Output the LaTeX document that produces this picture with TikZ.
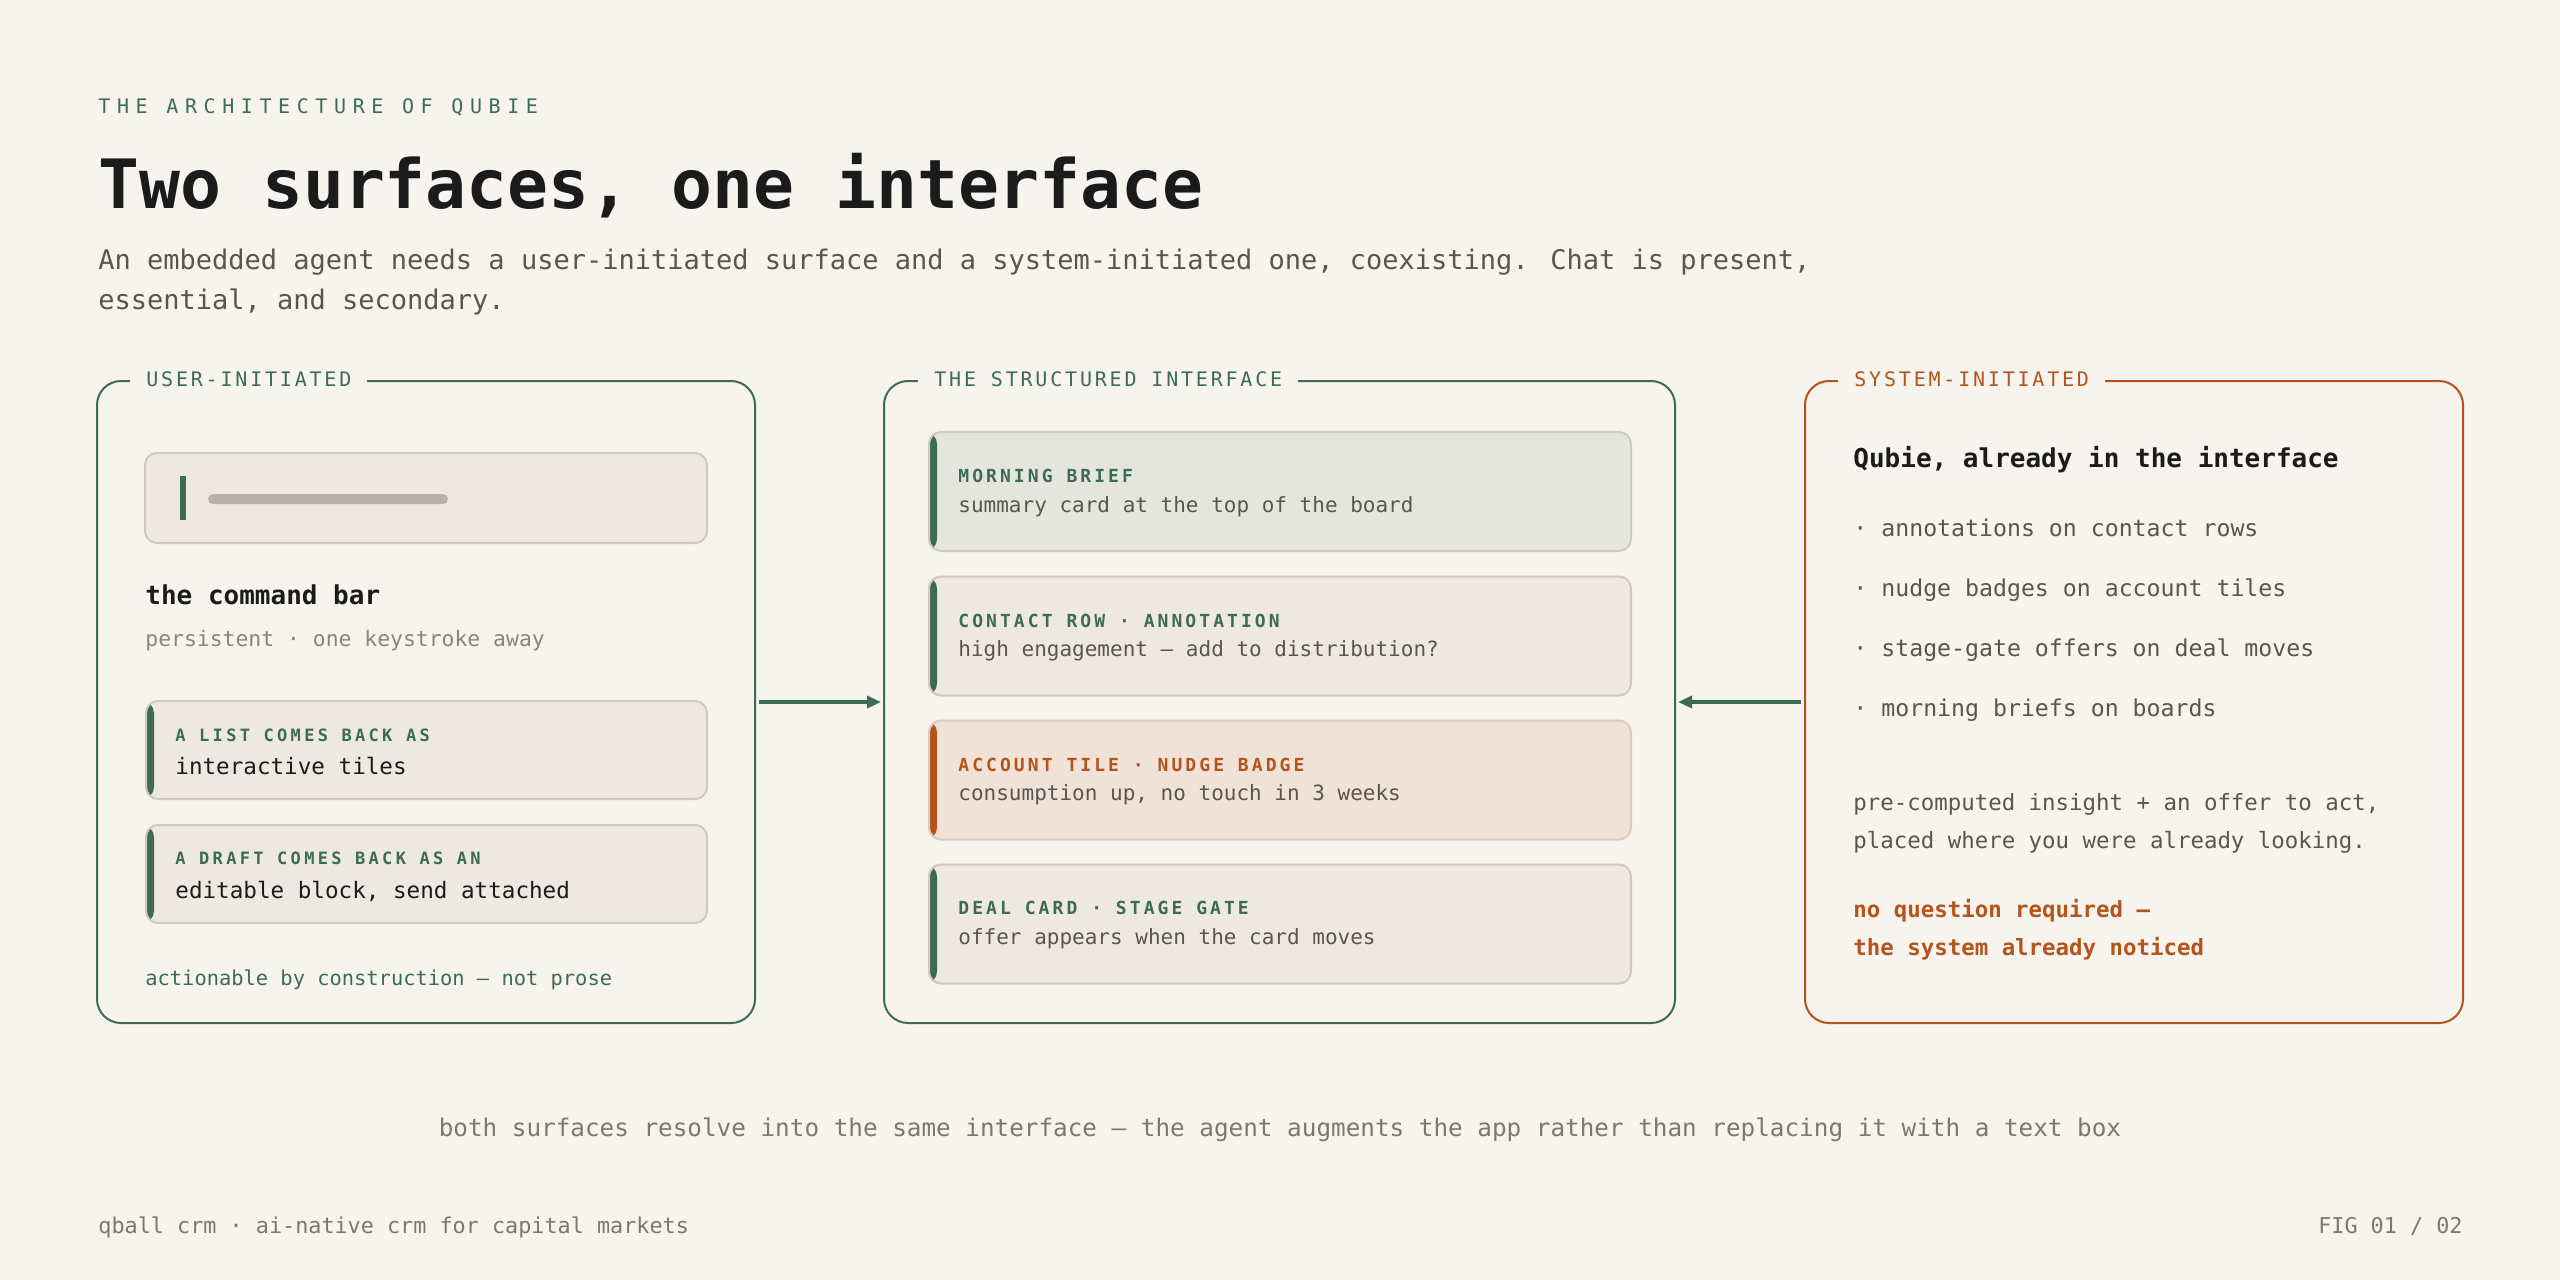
\documentclass[tikz,border=0pt]{standalone}
\usepackage{fontspec}
\setmainfont{DejaVu Sans Mono}
\newfontfamily\eyefont[LetterSpace=33]{DejaVu Sans Mono}
\newfontfamily\plabfont[LetterSpace=14]{DejaVu Sans Mono}
\newfontfamily\clabfont[LetterSpace=19.5]{DejaVu Sans Mono}
\newfontfamily\mlabfont[LetterSpace=17]{DejaVu Sans Mono}
\usetikzlibrary{arrows.meta}
\definecolor{bg}{HTML}{F7F4EF}
\definecolor{qgreen}{HTML}{3D6B56}
\definecolor{qorange}{HTML}{B4541A}
\definecolor{ink}{HTML}{1B1B1B}
\definecolor{grey}{HTML}{5A5550}
\definecolor{lightgrey}{HTML}{8A847D}
\definecolor{capgrey}{HTML}{7D7771}
\definecolor{cardfill}{HTML}{EDE8E2}
\definecolor{cardline}{HTML}{CFC9C2}
\definecolor{greenfill}{HTML}{E4E5DF}
\definecolor{orangefill}{HTML}{F0E2D6}
\definecolor{orangeline}{HTML}{D9CBBF}
\definecolor{barfill}{HTML}{B6B0A9}
\begin{document}
\begin{tikzpicture}[x=0.5pt,y=-0.5pt,
  txt/.style={inner sep=0pt, anchor=base west},
  panel/.style={draw=#1, line width=1pt, rounded corners=12pt, inner sep=0pt, minimum height=321pt},
  plab/.style={fill=bg, inner xsep=8pt, inner ysep=2pt, anchor=west, text=#1, font=\plabfont\fontsize{10}{12}\selectfont},
  card/.style={draw=cardline, fill=cardfill, line width=1pt, rounded corners=6pt, inner sep=0pt},
  accent/.style={path picture={\fill[#1] (path picture bounding box.north west) rectangle ([xshift=4pt]path picture bounding box.south west);}},
  lcard/.style={card, accent=qgreen, minimum width=280.5pt, minimum height=49pt},
  mcard/.style={card, minimum width=351pt, minimum height=59.5pt},
  llab/.style={txt, text=qgreen, font=\clabfont\bfseries\fontsize{8.5}{10}\selectfont},
  lbody/.style={txt, text=ink, font=\fontsize{11.3}{13}\selectfont},
  mlab/.style={txt, text=#1, font=\mlabfont\bfseries\fontsize{9}{11}\selectfont},
  mbody/.style={txt, text=grey, font=\fontsize{10.5}{12}\selectfont},
  bullet/.style={txt, text=grey, font=\fontsize{11.6}{13}\selectfont},
  para/.style={txt, text=grey, font=\fontsize{11.2}{13}\selectfont},
  opara/.style={txt, text=qorange, font=\bfseries\fontsize{11.2}{13}\selectfont},
  conn/.style={draw=qgreen, line width=1.7pt, shorten <=1.5pt, shorten >=1pt, -{Triangle[length=7pt,width=6pt]}}
]
\fill[bg] (0,0) rectangle (2560,1280);
\useasboundingbox (0,0) rectangle (2560,1280);

% header
\node[txt, text=qgreen, font=\eyefont\fontsize{10}{12}\selectfont] (eyebrow) at (98,113) {THE ARCHITECTURE OF QUBIE};
\node[txt, text=ink, font=\bfseries\fontsize{34}{40}\selectfont] (title) at (98,208) {Two surfaces, one interface};
\node[txt, text=grey, font=\fontsize{13.5}{16}\selectfont] (sub1) at (98,269) {An embedded agent needs a user-initiated surface and a system-initiated one, coexisting. Chat is present,};
\node[txt, text=grey, font=\fontsize{13.5}{16}\selectfont] (sub2) at (98,309) {essential, and secondary.};

% panels
\node[panel=qgreen, minimum width=329pt] (user) at (426,702) {};
\node[panel=qgreen, minimum width=395.5pt] (iface) at (1279.5,702) {};
\node[panel=qorange, minimum width=329pt] (sys) at (2134,702) {};
\node[plab=qgreen] (userlab) at (130,379) {USER-INITIATED};
\node[plab=qgreen] (ifacelab) at (918,379) {THE STRUCTURED INTERFACE};
\node[plab=qorange] (syslab) at (1838,379) {SYSTEM-INITIATED};

% left panel content
\node[card, minimum width=281pt, minimum height=45pt] (cmd) at (426,498) {};
\fill[qgreen] (180,476) rectangle (186,520);
\fill[barfill, rounded corners=2.5pt] (208,494) rectangle (448,504);
\node[txt, text=ink, font=\bfseries\fontsize{13}{15}\selectfont] (cmdtitle) at (145,604) {the command bar};
\node[txt, text=lightgrey, font=\fontsize{10.7}{13}\selectfont] (cmdsub) at (145,646) {persistent · one keystroke away};
\node[lcard] (list) at (426.5,750) {};
\node[llab] (listlab) at (175,741) {A LIST COMES BACK AS};
\node[lbody] (listbody) at (175,774) {interactive tiles};
\node[lcard] (draft) at (426.5,874) {};
\node[llab] (draftlab) at (175,864) {A DRAFT COMES BACK AS AN};
\node[lbody] (draftbody) at (175,898) {editable block, send attached};
\node[txt, text=qgreen, font=\fontsize{10.2}{12}\selectfont] (action) at (145,985) {actionable by construction — not prose};

% centre panel content
\node[mcard, fill=greenfill, accent=qgreen] (brief) at (1280,491.5) {};
\node[mlab=qgreen] (brieflab) at (958,482) {MORNING BRIEF};
\node[mbody] (briefbody) at (958,512) {summary card at the top of the board};
\node[mcard, accent=qgreen] (contact) at (1280,636) {};
\node[mlab=qgreen] (contactlab) at (958,627) {CONTACT ROW · ANNOTATION};
\node[mbody] (contactbody) at (958,656) {high engagement — add to distribution?};
\node[mcard, fill=orangefill, draw=orangeline, accent=qorange] (account) at (1280,780) {};
\node[mlab=qorange] (accountlab) at (958,771) {ACCOUNT TILE · NUDGE BADGE};
\node[mbody] (accountbody) at (958,800) {consumption up, no touch in 3 weeks};
\node[mcard, accent=qgreen] (deal) at (1280,924) {};
\node[mlab=qgreen] (deallab) at (958,914) {DEAL CARD · STAGE GATE};
\node[mbody] (dealbody) at (958,944) {offer appears when the card moves};

% right panel content
\node[txt, text=ink, font=\bfseries\fontsize{13}{15}\selectfont] (qubie) at (1853,467) {Qubie, already in the interface};
\node[bullet] (b1) at (1853,536) {· annotations on contact rows};
\node[bullet] (b2) at (1853,596) {· nudge badges on account tiles};
\node[bullet] (b3) at (1853,656) {· stage-gate offers on deal moves};
\node[bullet] (b4) at (1853,716) {· morning briefs on boards};
\node[para] (p1) at (1853,810) {pre-computed insight + an offer to act,};
\node[para] (p2) at (1853,848) {placed where you were already looking.};
\node[opara] (o1) at (1853,917) {no question required —};
\node[opara] (o2) at (1853,955) {the system already noticed};

% connectors
\draw[conn] (user.east) -- (iface.west);
\draw[conn] (sys.west) -- (iface.east);

% caption and footer
\node[inner sep=0pt, anchor=base, text=capgrey, font=\fontsize{12.15}{14}\selectfont] (caption) at (1280,1136) {both surfaces resolve into the same interface — the agent augments the app rather than replacing it with a text box};
\node[txt, text=capgrey, font=\fontsize{10.9}{13}\selectfont] (footl) at (98,1233) {qball crm · ai-native crm for capital markets};
\node[inner sep=0pt, anchor=base east, text=capgrey, font=\fontsize{10.9}{13}\selectfont] (footr) at (2463,1233) {FIG 01 / 02};
\end{tikzpicture}
\end{document}
